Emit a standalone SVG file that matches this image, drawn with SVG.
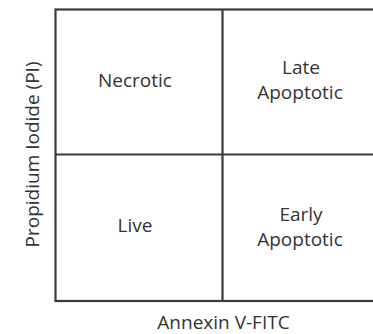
<svg xmlns="http://www.w3.org/2000/svg" width="373" height="334" viewBox="0 0 373 334">
<style>
.ln{fill:none;stroke:#3a3a3a;stroke-width:2.2}
.t{font-family:"Open Sans","Noto Sans","Liberation Sans",sans-serif;font-size:19px;fill:#333;text-anchor:middle}
</style>
<rect width="373" height="334" fill="#fff"/>
<g id="grid">
<rect class="ln" x="55.5" y="9.5" width="340" height="291.5"/>
<line class="ln" x1="222.5" y1="9.5" x2="222.5" y2="301"/>
<line class="ln" x1="55.5" y1="154.5" x2="395.5" y2="154.5"/>
</g>
<g id="necrotic"><text class="t" x="135" y="86.5">Necrotic</text></g>
<g id="late-apoptotic"><text class="t" x="301" y="74">Late</text><text class="t" x="300" y="98.5">Apoptotic</text></g>
<g id="live"><text class="t" x="135" y="232">Live</text></g>
<g id="early-apoptotic"><text class="t" x="301" y="221">Early</text><text class="t" x="300" y="245.5">Apoptotic</text></g>
<g id="y-axis"><text class="t" transform="translate(38.5,154.5) rotate(-90)">Propidium Iodide (PI)</text></g>
<g id="x-axis"><text class="t" x="223.5" y="328.5">Annexin V-FITC</text></g>
</svg>
